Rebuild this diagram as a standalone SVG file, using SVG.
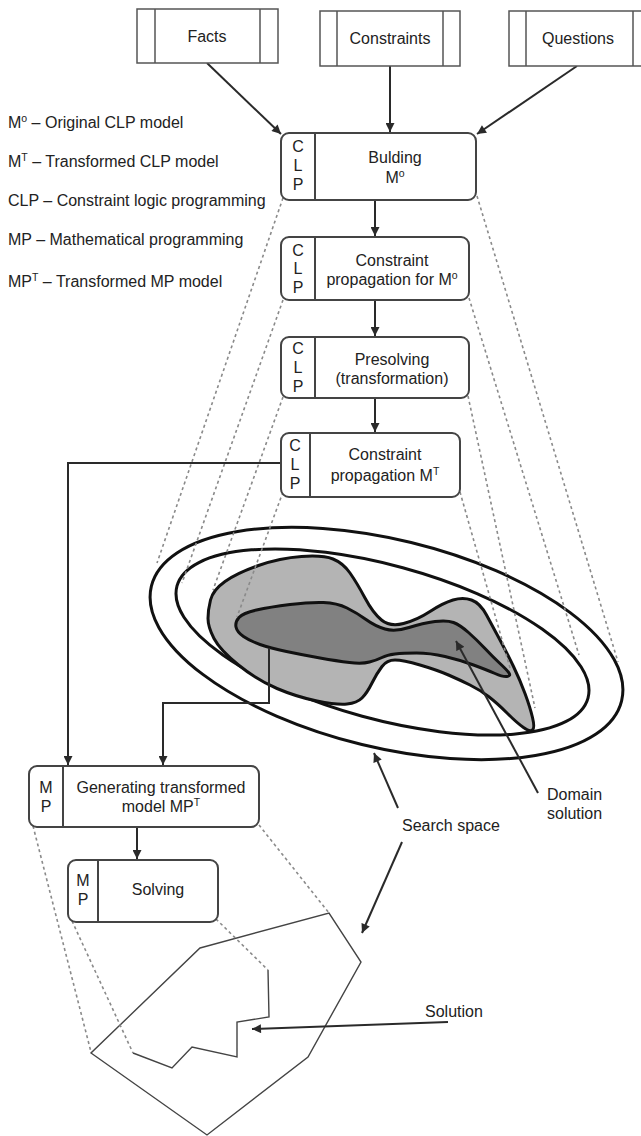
<svg xmlns="http://www.w3.org/2000/svg" width="641" height="1136" viewBox="0 0 641 1136">
  <defs>
    <marker id="arr" viewBox="0 0 10 10" refX="10" refY="5" markerWidth="10" markerHeight="9" orient="auto" markerUnits="userSpaceOnUse">
      <path d="M0,0 L10,5 L0,10 z" fill="#2a2a2a"/>
    </marker>
    <style>
      text { font-family: "Liberation Sans", Arial, sans-serif; font-size: 16px; fill: #222; }
      .mid { text-anchor: middle; }
      .sup { font-size: 10.5px; }
      .src { fill: #fff; stroke: #555; stroke-width: 1.5; }
      .step { fill: #fff; stroke: #444; stroke-width: 2; }
      .div { stroke: #444; stroke-width: 2; }
      .wire { fill: none; stroke: #2a2a2a; stroke-width: 2; }
      .dash { fill: none; stroke: #8a8a8a; stroke-width: 1.6; stroke-dasharray: 3 3; }
      .ring { fill: none; stroke: #111; stroke-width: 3; }
      .zone { stroke: #111; stroke-width: 3; stroke-linejoin: round; }
      .poly { fill: none; stroke: #444; stroke-width: 1.4; }
    </style>
  </defs>

  <rect width="641" height="1136" fill="#fff"/>

  <!-- search space: nested ellipses and domain regions -->
  <g id="search-space">
    <ellipse class="ring" cx="386.5" cy="643.5" rx="242" ry="104" transform="rotate(13.7 386.5 643.5)"/>
    <ellipse class="ring" cx="382.5" cy="642" rx="213" ry="77" transform="rotate(15.25 382.5 642)"/>
    <path class="zone" fill="#b4b4b4" d="M210.5,600 Q213,590 225,581.5 Q237,573 258.5,565.5 Q280,558 301.5,556.5 Q323,555 333,559 Q343,563 350,573 Q357,583 365,598 Q373,613 381.5,620 Q390,627 403.5,623.5 Q417,620 430,611.5 Q443,603 453,600 Q463,597 471.5,600 Q480,603 486.5,615 Q493,627 500,640 Q507,653 513.5,666.5 Q520,680 525,693.5 Q530,707 532.5,717.5 Q535,728 532.5,730 Q530,732 523.5,727.5 Q517,723 507,713 Q497,703 488.5,696.5 Q480,690 470,685 Q460,680 448.5,675 Q437,670 420,665 Q403,660 395,660 Q387,660 382,666.5 Q377,673 372,683 Q367,693 362,698 Q357,703 347,704 Q337,705 317,701 Q297,697 277,688.5 Q257,680 238.5,665 Q220,650 214,638.5 Q208,627 208,618.5 Q208,610 210.5,600 Z"/>
    <path class="zone" fill="#818181" d="M239,617.5 Q243,613 256.5,610 Q270,607 290,604.5 Q310,602 323.5,602.5 Q337,603 347,608 Q357,613 366,619.5 Q375,626 385,629 Q395,632 409,627.5 Q423,623 435,621.5 Q447,620 453.5,622.5 Q460,625 468.5,632.5 Q477,640 485,648.5 Q493,657 500,663.5 Q507,670 509,673 Q511,676 507,676.5 Q503,677 495,673.5 Q487,670 473.5,665 Q460,660 445,656.5 Q430,653 416.5,653 Q403,653 395,654 Q387,655 382,657.5 Q377,660 369.5,662 Q362,664 349.5,662.5 Q337,661 320,658 Q303,655 286.5,651.5 Q270,648 260,644.5 Q250,641 243.5,636.5 Q237,632 236,627 Q235,622 239,617.5 Z"/>
  </g>

  <!-- MP search space polygon and solution outline -->
  <g id="mp-space">
    <polygon class="poly" points="200,948 329,913 361,962 308,1057 207,1135 91,1053"/>
    <polyline class="poly" points="268,970 269,1017 237,1022 237,1057 192,1047 172,1068 133,1053"/>
  </g>

  <!-- projection lines -->
  <g id="projections">
    <line class="dash" x1="283" y1="198" x2="157" y2="563"/>
    <line class="dash" x1="283" y1="300" x2="182" y2="583"/>
    <line class="dash" x1="283" y1="397" x2="213" y2="590"/>
    <line class="dash" x1="283" y1="492" x2="237" y2="617"/>
    <line class="dash" x1="477" y1="196" x2="618" y2="662"/>
    <line class="dash" x1="469" y1="298" x2="579" y2="655"/>
    <line class="dash" x1="468" y1="396" x2="535" y2="708"/>
    <line class="dash" x1="460" y1="492" x2="510" y2="668"/>
    <line class="dash" x1="33" y1="826" x2="91" y2="1052"/>
    <line class="dash" x1="259" y1="825" x2="329" y2="913"/>
    <line class="dash" x1="72" y1="921" x2="133" y2="1053"/>
    <line class="dash" x1="216" y1="919" x2="268" y2="970"/>
  </g>

  <!-- connectors -->
  <g id="connectors">
    <line class="wire" x1="207" y1="63" x2="281" y2="134" marker-end="url(#arr)"/>
    <line class="wire" x1="390" y1="66" x2="390" y2="132" marker-end="url(#arr)"/>
    <line class="wire" x1="577" y1="66" x2="477" y2="134" marker-end="url(#arr)"/>
    <line class="wire" x1="375" y1="200" x2="375" y2="236" marker-end="url(#arr)"/>
    <line class="wire" x1="375" y1="300" x2="375" y2="336" marker-end="url(#arr)"/>
    <line class="wire" x1="375" y1="398" x2="375" y2="432" marker-end="url(#arr)"/>
    <path class="wire" d="M281,463 H68 V765" marker-end="url(#arr)"/>
    <path class="wire" d="M269,648 V703 H163 V765" marker-end="url(#arr)"/>
    <line class="wire" x1="137" y1="827" x2="137" y2="859" marker-end="url(#arr)"/>
    <line class="wire" x1="398" y1="808" x2="374" y2="753" marker-end="url(#arr)"/>
    <line class="wire" x1="402" y1="842" x2="362" y2="933" marker-end="url(#arr)"/>
    <line class="wire" x1="448" y1="1022" x2="252" y2="1029" marker-end="url(#arr)"/>
    <line class="wire" x1="538" y1="793" x2="456" y2="641" marker-end="url(#arr)"/>
  </g>

  <!-- input sources -->
  <g id="facts">
    <rect class="src" x="137" y="9" width="141" height="54"/>
    <line class="src" x1="155" y1="9" x2="155" y2="63"/>
    <line class="src" x1="260" y1="9" x2="260" y2="63"/>
    <text class="mid" x="207" y="42">Facts</text>
  </g>
  <g id="constraints">
    <rect class="src" x="320" y="11" width="140" height="55"/>
    <line class="src" x1="337" y1="11" x2="337" y2="66"/>
    <line class="src" x1="443" y1="11" x2="443" y2="66"/>
    <text class="mid" x="390" y="44">Constraints</text>
  </g>
  <g id="questions">
    <rect class="src" x="509" y="11" width="140" height="55"/>
    <line class="src" x1="526" y1="11" x2="526" y2="66"/>
    <line class="src" x1="633" y1="11" x2="633" y2="66"/>
    <text class="mid" x="578" y="44">Questions</text>
  </g>

  <!-- CLP stages -->
  <g id="clp-building">
    <rect class="step" x="281" y="133" width="195" height="67" rx="8"/>
    <line class="div" x1="315" y1="133" x2="315" y2="200"/>
    <text class="mid" x="298" y="151.5">C</text>
    <text class="mid" x="298" y="170.5">L</text>
    <text class="mid" x="298" y="189.5">P</text>
    <text class="mid" x="395" y="162.5">Bulding</text>
    <text class="mid" x="395" y="183">M<tspan class="sup" dy="-6">o</tspan></text>
  </g>
  <g id="clp-propagation">
    <rect class="step" x="281" y="237" width="188" height="63" rx="8"/>
    <line class="div" x1="315" y1="237" x2="315" y2="300"/>
    <text class="mid" x="298" y="255.5">C</text>
    <text class="mid" x="298" y="274">L</text>
    <text class="mid" x="298" y="293">P</text>
    <text class="mid" x="392" y="265.5">Constraint</text>
    <text class="mid" x="392" y="284.5">propagation for M<tspan class="sup" dy="-6">o</tspan></text>
  </g>
  <g id="clp-presolving">
    <rect class="step" x="281" y="337" width="188" height="61" rx="8"/>
    <line class="div" x1="315" y1="337" x2="315" y2="398"/>
    <text class="mid" x="298" y="354">C</text>
    <text class="mid" x="298" y="373">L</text>
    <text class="mid" x="298" y="392">P</text>
    <text class="mid" x="392" y="364.5">Presolving</text>
    <text class="mid" x="392" y="383.5">(transformation)</text>
  </g>
  <g id="clp-propagation-t">
    <rect class="step" x="281" y="433" width="179" height="64" rx="8"/>
    <line class="div" x1="310" y1="433" x2="310" y2="497"/>
    <text class="mid" x="295" y="451">C</text>
    <text class="mid" x="295" y="470">L</text>
    <text class="mid" x="295" y="489">P</text>
    <text class="mid" x="385" y="459.5">Constraint</text>
    <text class="mid" x="385" y="480.5">propagation M<tspan class="sup" dy="-6">T</tspan></text>
  </g>

  <!-- MP stages -->
  <g id="mp-generating">
    <rect class="step" x="29" y="766" width="230" height="61" rx="8"/>
    <line class="div" x1="63" y1="766" x2="63" y2="827"/>
    <text class="mid" x="46" y="792.5">M</text>
    <text class="mid" x="46" y="811.5">P</text>
    <text class="mid" x="161" y="792.5">Generating transformed</text>
    <text class="mid" x="161" y="811.5">model MP<tspan class="sup" dy="-6">T</tspan></text>
  </g>
  <g id="mp-solving">
    <rect class="step" x="68" y="860" width="150" height="62" rx="8"/>
    <line class="div" x1="98" y1="860" x2="98" y2="922"/>
    <text class="mid" x="83" y="885.5">M</text>
    <text class="mid" x="83" y="904.5">P</text>
    <text class="mid" x="158" y="894.5">Solving</text>
  </g>

  <!-- labels -->
  <g id="labels">
    <text x="8" y="128">M<tspan class="sup" dy="-6">o</tspan><tspan dy="6"> – Original CLP model</tspan></text>
    <text x="8" y="167">M<tspan class="sup" dy="-6">T</tspan><tspan dy="6"> – Transformed CLP model</tspan></text>
    <text x="8" y="206">CLP – Constraint logic programming</text>
    <text x="8" y="245">MP – Mathematical programming</text>
    <text x="8" y="287">MP<tspan class="sup" dy="-6">T</tspan><tspan dy="6"> – Transformed MP model</tspan></text>
    <text x="402" y="831">Search space</text>
    <text x="547" y="800">Domain</text>
    <text x="547" y="819">solution</text>
    <text x="425" y="1016.5">Solution</text>
  </g>
</svg>
